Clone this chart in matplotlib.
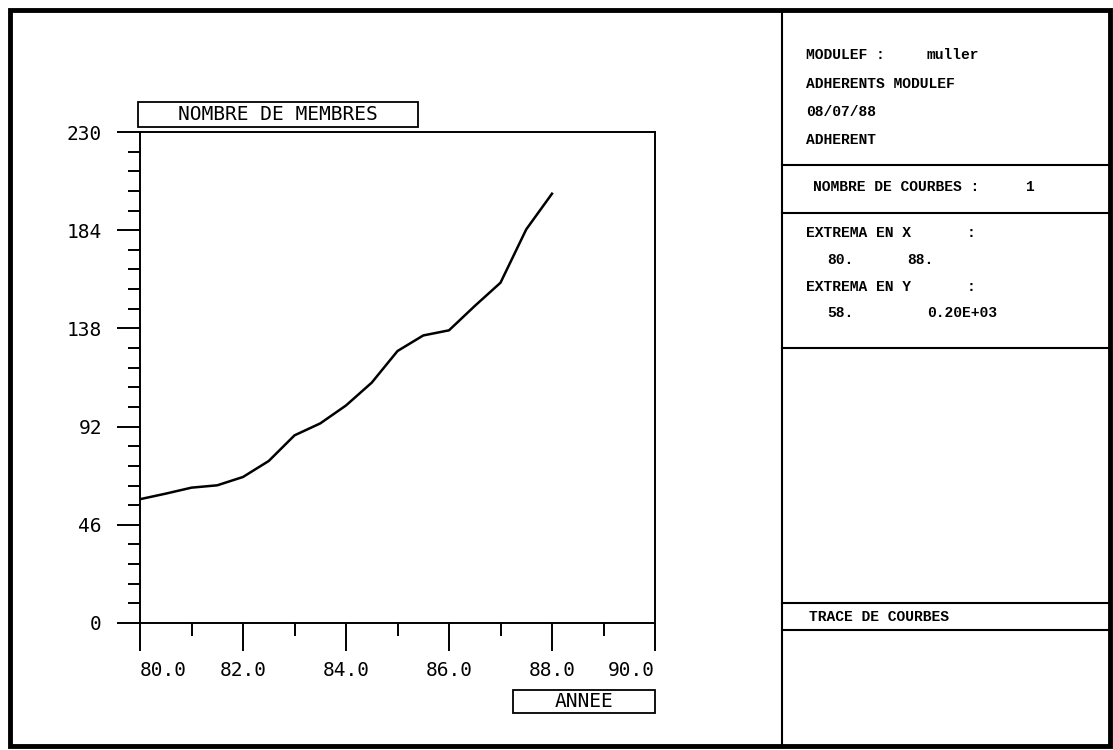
import matplotlib.pyplot as plt
import numpy as np
from matplotlib.lines import Line2D
from matplotlib.patches import Rectangle

# donnees de la courbe (adherents MODULEF)
annees = [80.0, 80.5, 81.0, 81.5, 82.0, 82.5, 83.0, 83.5, 84.0,
          84.5, 85.0, 85.5, 86.0, 86.5, 87.0, 87.5, 88.0]
membres = [58.0, 60.6, 63.4, 64.5, 68.4, 75.9, 87.9, 93.5, 101.9,
           112.6, 127.4, 134.7, 137.1, 148.5, 159.4, 184.4, 201.1]

x_ticks = [80, 82, 84, 86, 88, 90]
x_labels = ['80.0', '82.0', '84.0', '86.0', '88.0', '90.0']
y_ticks = [0, 46, 92, 138, 184, 230]
y_labels = ['0', '46', '92', '138', '184', '230']

titre_y = 'NOMBRE DE MEMBRES'
titre_x = 'ANNEE'

# cartouche de droite
cartouche = [
    ('MODULEF :', 806, 55), ('muller', 927, 55),
    ('ADHERENTS MODULEF', 806, 84),
    ('08/07/88', 806, 112),
    ('ADHERENT', 806, 140),
    ('NOMBRE DE COURBES :', 813, 187), ('1', 1025, 187),
    ('EXTREMA EN X', 806, 233), (':', 967, 233),
    ('80.', 827, 260), ('88.', 907, 260),
    ('EXTREMA EN Y', 806, 287), (':', 967, 287),
    ('58.', 827, 313), ('0.20E+03', 927, 313),
    ('TRACE DE COURBES', 809, 617),
]
separations = [165, 213, 348, 603, 630]

plt.rcParams['font.family'] = 'DejaVu Sans Mono'

W, H = 1113, 750
fig = plt.figure(figsize=(W / 100, H / 100), dpi=100)


def fx(px):
    return px / W


def fy(py):
    return 1 - py / H


ax = fig.add_axes([fx(140), fy(623), fx(655) - fx(140), fy(132) - fy(623)])
ax.plot(annees, membres, color='black', lw=1.8)
ax.set_xlim(80, 90)
ax.set_ylim(0, 230)

ax.set_xticks(x_ticks)
ax.set_xticklabels(x_labels)
ax.set_xticks(np.arange(81, 90, 2), minor=True)
ax.set_yticks(y_ticks)
ax.set_yticklabels(y_labels)
ax.set_yticks([i * 9.2 for i in range(26) if i % 5 != 0], minor=True)

ax.tick_params(axis='x', which='major', length=20, width=1.4, pad=7, labelsize=14)
ax.tick_params(axis='x', which='minor', length=9.5, width=1.4)
ax.tick_params(axis='y', which='major', length=16.5, width=1.4, pad=11, labelsize=14)
ax.tick_params(axis='y', which='minor', length=8.5, width=1.4)
for sp in ax.spines.values():
    sp.set_linewidth(1.4)

labels = ax.get_xticklabels()
labels[0].set_ha('left')
labels[-1].set_ha('right')

# boites des titres d'axes
for txt, x0, y0, x1, y1 in [(titre_y, 138, 102, 418, 127),
                            (titre_x, 513, 690, 655, 713)]:
    fig.add_artist(Rectangle((fx(x0), fy(y1)), fx(x1) - fx(x0), fy(y0) - fy(y1),
                             transform=fig.transFigure, fill=False,
                             lw=1.3, ec='black'))
    fig.text(fx((x0 + x1) / 2), fy((y0 + y1) / 2), txt, ha='center', va='center',
             fontsize=14)

# cadre general et cartouche
fig.add_artist(Rectangle((fx(10), fy(746)), fx(1110) - fx(10), fy(10) - fy(746),
                         transform=fig.transFigure, fill=False, lw=3.5, ec='black'))
fig.add_artist(Line2D([fx(782), fx(782)], [fy(10), fy(746)],
                      transform=fig.transFigure, color='black', lw=1.5))
for yy in separations:
    fig.add_artist(Line2D([fx(782), fx(1110)], [fy(yy), fy(yy)],
                          transform=fig.transFigure, color='black', lw=1.5))
for txt, xx, yy in cartouche:
    fig.text(fx(xx), fy(yy), txt, ha='left', va='center', fontsize=10.5,
             family='Liberation Mono', weight='bold')

plt.savefig('out.png', dpi=100)
